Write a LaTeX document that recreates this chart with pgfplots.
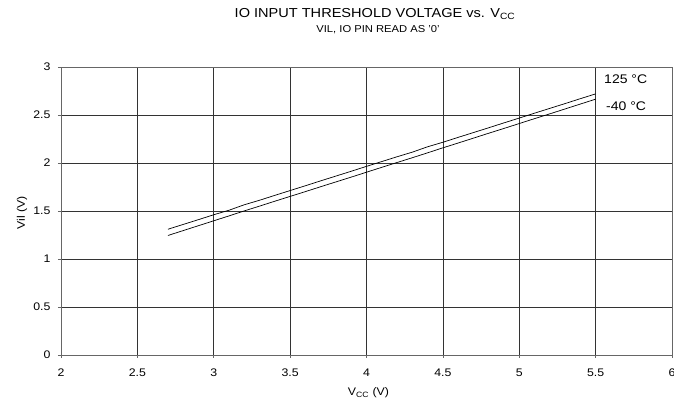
\documentclass[border=0pt]{standalone}
\usepackage{pgfplots}
\pgfplotsset{compat=1.18}
\usepackage{fontspec}
\setmainfont{Liberation Sans}[FakeStretch=1.12]
\begin{document}
\begin{tikzpicture}
\begin{axis}[
  scale only axis, width=611pt, height=288pt,
  xmin=2, xmax=6, ymin=0, ymax=3,
  xtick={2,2.5,3,3.5,4,4.5,5,5.5,6},
  ytick={0,0.5,1,1.5,2,2.5,3},
  grid=major, grid style={black!80, line width=0.6pt},
  axis line style={black!60, line width=0.9pt},
  tick align=outside, tick pos=left, major tick length=3pt,
  tick style={black!60, line width=0.6pt},
  tick label style={font=\fontsize{11}{13}\selectfont},
  xticklabel style={yshift=-7pt},
  yticklabel style={xshift=-4pt},
  /pgf/number format/assume math mode=true,
  clip=false,
]
\addplot[black, line width=0.7pt] coordinates {
(2.7,1.31) (2.8,1.36) (2.9,1.41) (3.0,1.461) (3.1,1.508) (3.2,1.565) (3.3,1.612)
(3.4,1.663) (3.5,1.713) (3.6,1.763) (3.7,1.814) (3.8,1.864) (3.9,1.914) (4.0,1.965)
(4.1,2.015) (4.2,2.065) (4.3,2.113) (4.4,2.169) (4.5,2.216) (4.6,2.267) (4.7,2.317)
(4.8,2.367) (4.9,2.418) (5.0,2.468) (5.1,2.519) (5.2,2.569) (5.3,2.619) (5.4,2.670)
(5.5,2.72)};
\addplot[black, line width=0.7pt] coordinates {
(2.7,1.245) (2.8,1.296) (2.9,1.347) (3.0,1.398) (3.1,1.449) (3.2,1.501) (3.3,1.551)
(3.4,1.602) (3.5,1.652) (3.6,1.702) (3.7,1.753) (3.8,1.803) (3.9,1.853) (4.0,1.904)
(4.1,1.955) (4.2,2.005) (4.3,2.055) (4.4,2.106) (4.5,2.158) (4.6,2.208) (4.7,2.259)
(4.8,2.310) (4.9,2.360) (5.0,2.411) (5.1,2.462) (5.2,2.512) (5.3,2.563) (5.4,2.614)
(5.5,2.665)};
\node[anchor=base west, font=\fontsize{12.5}{14}\selectfont, inner sep=0pt] at (axis cs:5.555,2.83) {125 °C};
\node[anchor=base west, font=\fontsize{12.5}{14}\selectfont, inner sep=0pt] at (axis cs:5.568,2.545) {-40 °C};
\end{axis}
\node[anchor=base, font=\fontsize{13}{15}\selectfont, inner sep=0pt] at (314pt,337.5pt) {IO INPUT THRESHOLD VOLTAGE vs. V\textsubscript{CC}};
\node[anchor=base, font=\fontsize{10}{12}\selectfont, inner sep=0pt] at (317pt,322.7pt) {VIL, IO PIN READ AS '0'};
\node[font=\fontsize{11}{13}\selectfont] at (307.5pt,-38pt) {V\textsubscript{CC} (V)};
\node[font=\fontsize{11}{13}\selectfont, rotate=90] at (-39pt,142pt) {Vil (V)};
\pgfresetboundingbox
\path[use as bounding box] (-61pt,-51pt) rectangle (613pt,355pt);
\end{tikzpicture}
\end{document}
